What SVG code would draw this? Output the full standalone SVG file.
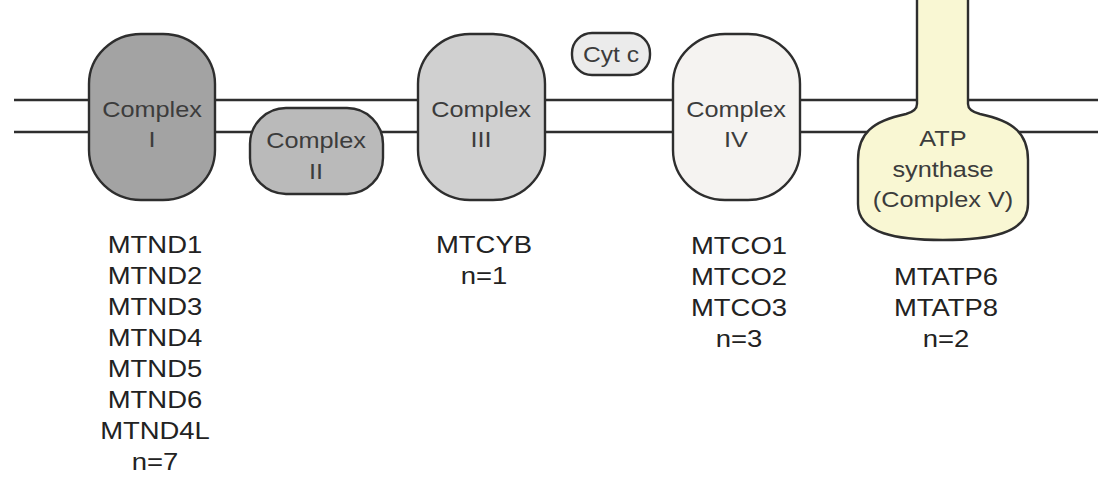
<svg xmlns="http://www.w3.org/2000/svg" width="1098" height="497" viewBox="0 0 1098 497">
<style>
.node{stroke:#2e2e2e;stroke-width:2.4}
.lbl{font-family:"Liberation Sans",Arial,sans-serif;font-size:22px;fill:#3c3c3c;text-anchor:middle}
.gene{font-family:"Liberation Sans",Arial,sans-serif;font-size:24.5px;fill:#222;text-anchor:middle}
.mem{stroke:#2e2e2e;stroke-width:2.4;fill:none}
</style>
<rect width="1098" height="497" fill="#fff"/>
<g id="membrane">
<line class="mem" x1="14" y1="100" x2="1098" y2="100"/>
<line class="mem" x1="14" y1="132" x2="1098" y2="132"/>
</g>
<g id="complex1">
<rect class="node" x="89" y="34" width="126" height="166" rx="52" ry="50" fill="#a3a3a3"/>
<g transform="translate(152,0) scale(1.15,1)"><text class="lbl" x="0" y="117">Complex</text><text class="lbl" x="0" y="147">I</text></g>
</g>
<g id="complex2">
<rect class="node" x="250" y="108" width="133" height="86" rx="36" ry="36" fill="#bababa"/>
<g transform="translate(316,0) scale(1.15,1)"><text class="lbl" x="0" y="148">Complex</text><text class="lbl" x="0" y="179">II</text></g>
</g>
<g id="complex3">
<rect class="node" x="418" y="34" width="127" height="166" rx="52" ry="50" fill="#d0d0d0"/>
<g transform="translate(481,0) scale(1.15,1)"><text class="lbl" x="0" y="117">Complex</text><text class="lbl" x="0" y="147">III</text></g>
</g>
<g id="cytc">
<rect class="node" x="572" y="33" width="78" height="42" rx="20" ry="20" fill="#ebebeb"/>
<g transform="translate(611,0) scale(1.12,1)"><text class="lbl" x="0" y="62">Cyt c</text></g>
</g>
<g id="complex4">
<rect class="node" x="673" y="34" width="127" height="166" rx="52" ry="50" fill="#f5f3f1"/>
<g transform="translate(736,0) scale(1.15,1)"><text class="lbl" x="0" y="117">Complex</text><text class="lbl" x="0" y="147">IV</text></g>
</g>
<g id="complex5">
<path class="node" fill="#f9f7d3" d="M917,-3 V104 Q917,111 906,114 C872,121 858,134 858,160 V204 C858,234 898,240 943,240 C988,240 1028,234 1028,204 V160 C1028,134 1014,121 980,114 Q968,111 968,104 V-3 Z"/>
<g transform="translate(943,0) scale(1.15,1)"><text class="lbl" x="0" y="146">ATP</text><text class="lbl" x="0" y="177">synthase</text><text class="lbl" x="0" y="207">(Complex V)</text></g>
</g>
<g id="genes1" transform="translate(155,0) scale(1.12,1)">
<text class="gene" x="0" y="253">MTND1</text>
<text class="gene" x="0" y="284">MTND2</text>
<text class="gene" x="0" y="315">MTND3</text>
<text class="gene" x="0" y="346">MTND4</text>
<text class="gene" x="0" y="377">MTND5</text>
<text class="gene" x="0" y="408">MTND6</text>
<text class="gene" x="0" y="439">MTND4L</text>
<text class="gene" x="0" y="470">n=7</text>
</g>
<g id="genes3" transform="translate(484,0) scale(1.12,1)">
<text class="gene" x="0" y="253">MTCYB</text>
<text class="gene" x="0" y="284">n=1</text>
</g>
<g id="genes4" transform="translate(739,0) scale(1.12,1)">
<text class="gene" x="0" y="254">MTCO1</text>
<text class="gene" x="0" y="285">MTCO2</text>
<text class="gene" x="0" y="316">MTCO3</text>
<text class="gene" x="0" y="347">n=3</text>
</g>
<g id="genes5" transform="translate(946,0) scale(1.12,1)">
<text class="gene" x="0" y="285">MTATP6</text>
<text class="gene" x="0" y="316">MTATP8</text>
<text class="gene" x="0" y="347">n=2</text>
</g>
</svg>
